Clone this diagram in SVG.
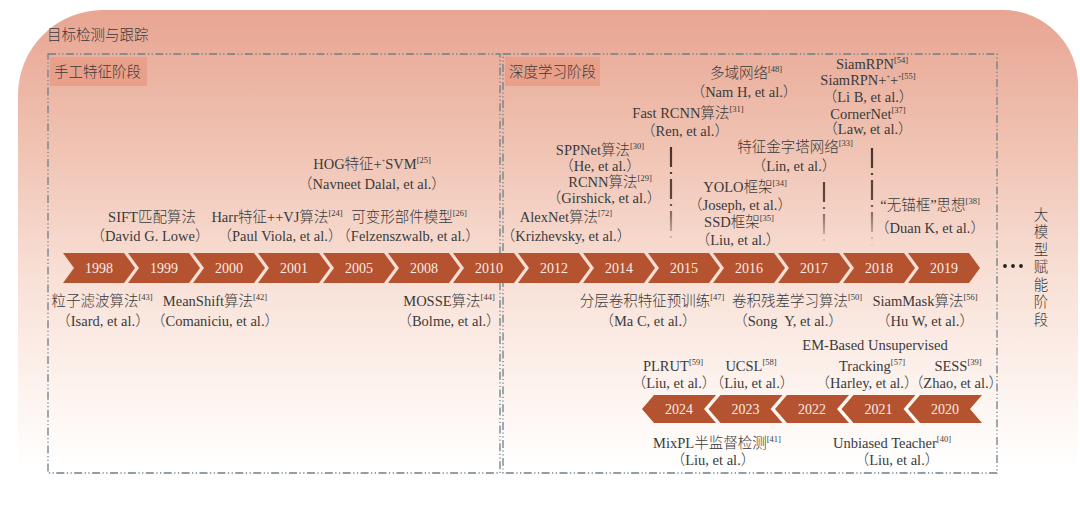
<svg xmlns="http://www.w3.org/2000/svg" xmlns:xlink="http://www.w3.org/1999/xlink" width="1080" height="507" viewBox="0 0 1080 507">
<defs>
<linearGradient id="bg" gradientUnits="userSpaceOnUse" x1="0" y1="10" x2="0" y2="470">
<stop offset="0" stop-color="#E8A592"/>
<stop offset="0.3" stop-color="#F0C3B3"/>
<stop offset="0.58" stop-color="#F8E0D6"/>
<stop offset="0.82" stop-color="#FDF3EE"/>
<stop offset="1" stop-color="#FFFFFF"/>
</linearGradient>
<linearGradient id="fade" gradientUnits="userSpaceOnUse" x1="0" y1="146" x2="0" y2="246">
<stop offset="0" stop-color="#4A3028" stop-opacity="1"/>
<stop offset="0.55" stop-color="#4A3028" stop-opacity="0.85"/>
<stop offset="1" stop-color="#4A3028" stop-opacity="0.05"/>
</linearGradient>
<path id="chev" d="M0,0 H61 L72,15 L61,30 H0 L11,15 Z"/>
<path id="rchev" d="M0,14 L12,0 H74 L62,14 L74,28 H12 Z"/>
<style>
.t{font-family:"Liberation Serif","Noto Sans CJK SC",serif;font-size:14.5px;font-weight:300;fill:#3a3a3a;text-anchor:middle;font-feature-settings:"halt" 1}
.s{font-size:8.5px}
.tiny{font-size:6px}
.yr{font-family:"Liberation Serif","Noto Sans CJK SC",serif;font-size:14px;fill:#F8ECE5;text-anchor:middle}
.ch{fill:#B5522F}
.box{fill:none;stroke:#6F7F88;stroke-width:1.3;stroke-dasharray:8 2.5 1.2 2.5 1.2 2.5}
.lab{fill:#E8A08A}
.hd{font-family:"Noto Sans CJK SC","Liberation Serif",serif;font-size:14.5px;font-weight:300;fill:#3a3a3a}
.conn{stroke:url(#fade);stroke-width:2.2;fill:none;stroke-dasharray:20 5 2 5}
</style>
</defs>

<g id="background">
<path d="M18,507 V95 A85,85 0 0 1 103,10 H1003 A75,75 0 0 1 1078,85 V507 Z" fill="url(#bg)"/>
</g>

<g id="title">
<text x="47" y="40" class="hd" font-size="14">目标检测与跟踪</text>
</g>

<g id="stage-handcrafted">
<rect class="box" x="48" y="54" width="452" height="419"/>
<rect class="lab" x="50" y="57" width="97" height="29"/>
<text x="54" y="77" class="hd" font-size="15">手工特征阶段</text>
</g>

<g id="stage-deep">
<rect class="box" x="503" y="54" width="494" height="419"/>
<rect class="lab" x="505" y="57" width="95" height="29"/>
<text x="509" y="77" class="hd" font-size="15">深度学习阶段</text>
</g>

<g id="stage-bigmodel">
<circle cx="1005" cy="266" r="1.9" fill="#222"/>
<circle cx="1013" cy="266" r="1.9" fill="#222"/>
<circle cx="1021" cy="266" r="1.9" fill="#222"/>
<text class="hd" x="1041" y="207" font-size="15" fill="#444" writing-mode="tb" style="letter-spacing:3px">大模型赋能阶段</text>
</g>

<g id="connectors">
<path class="conn" d="M671,147 V243"/>
<path class="conn" d="M824,182 V246"/>
<path class="conn" d="M872,148 V246"/>
</g>

<g id="timeline-top">
<g id="y1998"><use xlink:href="#chev" x="63" y="253" class="ch"/><text class="yr" x="99" y="273">1998</text></g>
<g id="y1999"><use xlink:href="#chev" x="128" y="253" class="ch"/><text class="yr" x="164" y="273">1999</text></g>
<g id="y2000"><use xlink:href="#chev" x="193" y="253" class="ch"/><text class="yr" x="229" y="273">2000</text></g>
<g id="y2001"><use xlink:href="#chev" x="258" y="253" class="ch"/><text class="yr" x="294" y="273">2001</text></g>
<g id="y2005"><use xlink:href="#chev" x="323" y="253" class="ch"/><text class="yr" x="359" y="273">2005</text></g>
<g id="y2008"><use xlink:href="#chev" x="388" y="253" class="ch"/><text class="yr" x="424" y="273">2008</text></g>
<g id="y2010"><use xlink:href="#chev" x="453" y="253" class="ch"/><text class="yr" x="489" y="273">2010</text></g>
<g id="y2012"><use xlink:href="#chev" x="518" y="253" class="ch"/><text class="yr" x="554" y="273">2012</text></g>
<g id="y2014"><use xlink:href="#chev" x="583" y="253" class="ch"/><text class="yr" x="619" y="273">2014</text></g>
<g id="y2015"><use xlink:href="#chev" x="648" y="253" class="ch"/><text class="yr" x="684" y="273">2015</text></g>
<g id="y2016"><use xlink:href="#chev" x="713" y="253" class="ch"/><text class="yr" x="749" y="273">2016</text></g>
<g id="y2017"><use xlink:href="#chev" x="778" y="253" class="ch"/><text class="yr" x="814" y="273">2017</text></g>
<g id="y2018"><use xlink:href="#chev" x="843" y="253" class="ch"/><text class="yr" x="879" y="273">2018</text></g>
<g id="y2019"><use xlink:href="#chev" x="908" y="253" class="ch"/><text class="yr" x="944" y="273">2019</text></g>
</g>

<g id="timeline-bottom">
<g id="y2024"><use xlink:href="#rchev" x="642" y="395" class="ch"/><text class="yr" x="679" y="414">2024</text></g>
<g id="y2023"><use xlink:href="#rchev" x="708.5" y="395" class="ch"/><text class="yr" x="745.5" y="414">2023</text></g>
<g id="y2022"><use xlink:href="#rchev" x="775" y="395" class="ch"/><text class="yr" x="812" y="414">2022</text></g>
<g id="y2021"><use xlink:href="#rchev" x="841.5" y="395" class="ch"/><text class="yr" x="878.5" y="414">2021</text></g>
<g id="y2020"><use xlink:href="#rchev" x="908" y="395" class="ch"/><text class="yr" x="945" y="414">2020</text></g>
</g>

<g id="hog"><text class="t" x="372" y="169">HOG特征+<tspan class="tiny" dy="-6">+</tspan><tspan dy="6">SVM</tspan><tspan class="s" dy="-6">[25]</tspan></text><text class="t" x="372" y="189">（Navneet Dalal, et al.）</text></g>
<g id="sift"><text class="t" x="152" y="222">SIFT匹配算法</text><text class="t" x="150" y="241">（David G. Lowe）</text></g>
<g id="harr"><text class="t" x="277" y="222">Harr特征++VJ算法<tspan class="s" dy="-6">[24]</tspan></text><text class="t" x="280" y="241">（Paul Viola, et al.）</text></g>
<g id="dpm"><text class="t" x="409" y="222">可变形部件模型<tspan class="s" dy="-6">[26]</tspan></text><text class="t" x="408" y="241">（Felzenszwalb, et al.）</text></g>
<g id="particle"><text class="t" x="102" y="306">粒子滤波算法<tspan class="s" dy="-6">[43]</tspan></text><text class="t" x="103" y="326">（Isard, et al.）</text></g>
<g id="meanshift"><text class="t" x="215" y="306">MeanShift算法<tspan class="s" dy="-6">[42]</tspan></text><text class="t" x="215" y="326">（Comaniciu, et al.）</text></g>
<g id="mosse"><text class="t" x="449" y="306">MOSSE算法<tspan class="s" dy="-6">[44]</tspan></text><text class="t" x="449" y="326">（Bolme, et al.）</text></g>

<g id="mdnet"><text class="t" x="746" y="78">多域网络<tspan class="s" dy="-6">[48]</tspan></text><text class="t" x="744" y="97">（Nam H, et al.）</text></g>
<g id="siamrpn"><text class="t" x="872" y="69">SiamRPN<tspan class="s" dy="-6">[54]</tspan></text><text class="t" x="868" y="85">SiamRPN+<tspan class="tiny" dy="-6">+</tspan><tspan dy="6">+</tspan><tspan class="tiny" dy="-6">+</tspan><tspan class="s">[55]</tspan></text><text class="t" x="868" y="102">（Li B, et al.）</text></g>
<g id="cornernet"><text class="t" x="868" y="119">CornerNet<tspan class="s" dy="-6">[37]</tspan></text><text class="t" x="868" y="134">（Law, et al.）</text></g>
<g id="fastrcnn"><text class="t" x="688" y="118">Fast RCNN算法<tspan class="s" dy="-6">[31]</tspan></text><text class="t" x="685" y="136">（Ren, et al.）</text></g>
<g id="sppnet"><text class="t" x="600" y="155">SPPNet算法<tspan class="s" dy="-6">[30]</tspan></text><text class="t" x="600" y="171">（He, et al.）</text></g>
<g id="rcnn"><text class="t" x="610" y="187">RCNN算法<tspan class="s" dy="-6">[29]</tspan></text><text class="t" x="604" y="203">（Girshick, et al.）</text></g>
<g id="alexnet"><text class="t" x="566" y="222">AlexNet算法<tspan class="s" dy="-6">[72]</tspan></text><text class="t" x="566" y="241">（Krizhevsky, et al.）</text></g>
<g id="fpn"><text class="t" x="795" y="152">特征金字塔网络<tspan class="s" dy="-6">[33]</tspan></text><text class="t" x="794" y="171">（Lin, et al.）</text></g>
<g id="yolo"><text class="t" x="745" y="192">YOLO框架<tspan class="s" dy="-6">[34]</tspan></text><text class="t" x="740" y="210">（Joseph, et al.）</text></g>
<g id="ssd"><text class="t" x="739" y="227">SSD框架<tspan class="s" dy="-6">[35]</tspan></text><text class="t" x="738" y="245">（Liu, et al.）</text></g>
<g id="anchorfree"><text class="t" x="930" y="210">“无锚框”思想<tspan class="s" dy="-6">[38]</tspan></text><text class="t" x="930" y="233">（Duan K, et al.）</text></g>

<g id="hcf"><text class="t" x="652" y="306">分层卷积特征预训练<tspan class="s" dy="-6">[47]</tspan></text><text class="t" x="648" y="326">（Ma C, et al.）</text></g>
<g id="crest"><text class="t" x="797" y="306">卷积残差学习算法<tspan class="s" dy="-6">[50]</tspan></text><text class="t" x="788" y="326" xml:space="preserve">（Song  Y, et al.）</text></g>
<g id="siammask"><text class="t" x="925" y="306">SiamMask算法<tspan class="s" dy="-6">[56]</tspan></text><text class="t" x="925" y="326">（Hu W, et al.）</text></g>

<g id="emtrack"><text class="t" x="875" y="350">EM-Based Unsupervised</text><text class="t" x="872" y="371">Tracking<tspan class="s" dy="-6">[57]</tspan></text><text class="t" x="867" y="388">（Harley, et al.）</text></g>
<g id="sess"><text class="t" x="958" y="371">SESS<tspan class="s" dy="-6">[39]</tspan></text><text class="t" x="956" y="388">（Zhao, et al.）</text></g>
<g id="plrut"><text class="t" x="673" y="371">PLRUT<tspan class="s" dy="-6">[59]</tspan></text><text class="t" x="674" y="388">（Liu, et al.）</text></g>
<g id="ucsl"><text class="t" x="751" y="371">UCSL<tspan class="s" dy="-6">[58]</tspan></text><text class="t" x="752" y="388">（Liu, et al.）</text></g>
<g id="mixpl"><text class="t" x="717" y="448">MixPL半监督检测<tspan class="s" dy="-6">[41]</tspan></text><text class="t" x="713" y="465">（Liu, et al.）</text></g>
<g id="unbiased"><text class="t" x="892" y="448">Unbiased Teacher<tspan class="s" dy="-6">[40]</tspan></text><text class="t" x="897" y="465">（Liu, et al.）</text></g>
</svg>
